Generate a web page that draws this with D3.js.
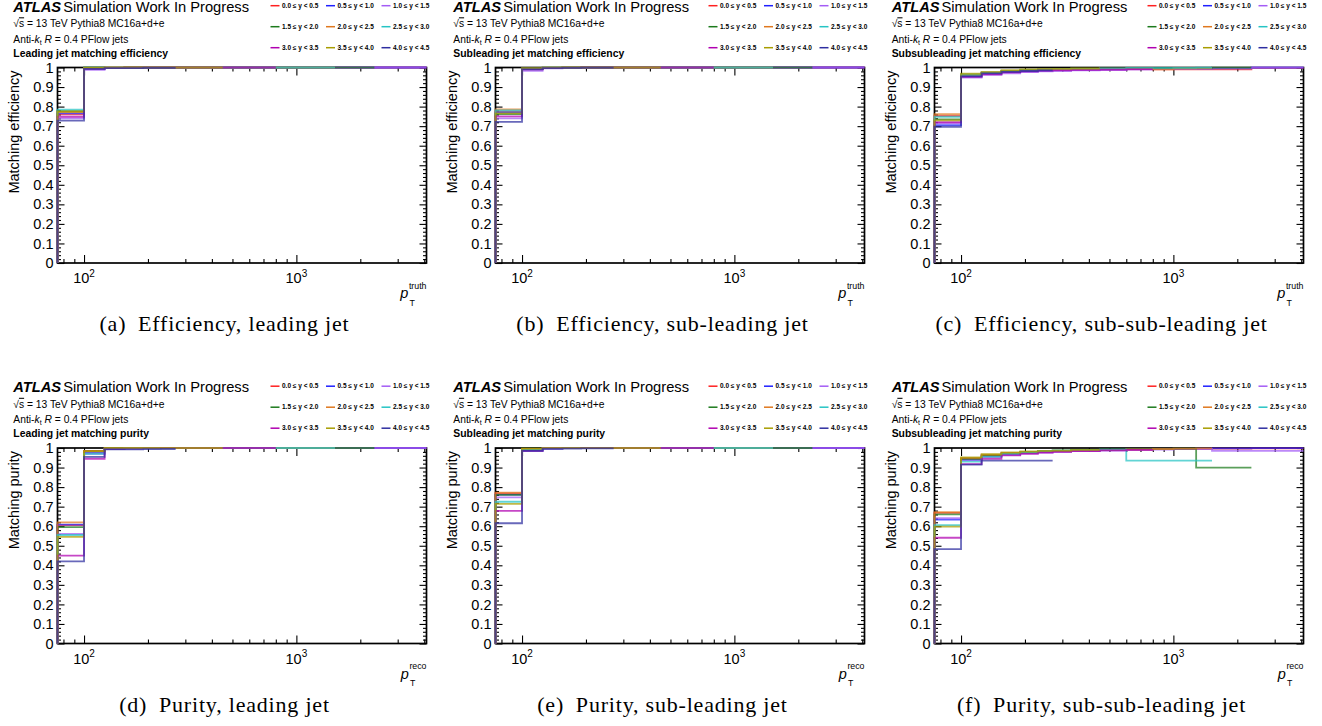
<!DOCTYPE html>
<html><head><meta charset="utf-8">
<script src="https://cdn.jsdelivr.net/npm/d3@7"></script>
<style>body{margin:0;background:#fff} svg{display:block}</style>
</head><body>
<svg id="c" width="1322" height="726"></svg>
<script>
// ---------------- data ----------------
const ptEdges = [75, 100, 125, 155, 190, 230, 270, 330, 450, 600, 800, 1000, 1280, 1520, 2330, 4100];
const rapidityLabels = ["0.0 \u2264 y < 0.5","0.5 \u2264 y < 1.0","1.0 \u2264 y < 1.5",
                        "1.5 \u2264 y < 2.0","2.0 \u2264 y < 2.5","2.5 \u2264 y < 3.0",
                        "3.0 \u2264 y < 3.5","3.5 \u2264 y < 4.0","4.0 \u2264 y < 4.5"];
const seriesColors = ["#ff2020","#2020ff","#a45cf5","#1c7a1c","#e0781e","#26c4c4","#b000b0","#a89d00","#2e2ea0"];

const effLead = [
 [0.760,0.995,0.998,0.999,0.999,1.000,1.000,1.000,1.000,1.000,1.000,1.000,1.000,1.000,1.000],
 [0.765,0.995,0.998,0.999,0.999,0.999,1.000,1.000,1.000,1.000,1.000,1.000,1.000,1.000,1.000],
 [0.740,0.988,0.997,0.998,0.999,0.999,1.000,1.000,1.000,1.000,1.000,1.000,1.000,1.000,1.000],
 [0.777,1.000,0.999,1.000,1.000,1.000,1.000,1.000,1.000,1.000,1.000,1.000,1.000,1.000],
 [0.772,0.997,0.999,1.000,1.000,1.000,1.000,1.000,1.000,1.000,1.000,1.000,1.000],
 [0.785,0.995,0.998,0.999,1.000,1.000,1.000,1.000,1.000,1.000,1.000,1.000,1.000],
 [0.748,0.993,0.998,0.999,1.000,1.000,1.000,1.000,1.000,1.000],
 [0.775,0.998,0.999,1.000,1.000,1.000,1.000,1.000],
 [0.728,0.993,0.997,0.997,0.998,0.998]
];
const effSub = [
 [0.775,0.993,0.998,0.999,1.000,1.000,1.000,1.000,1.000,1.000,1.000,1.000,1.000,1.000,1.000],
 [0.770,0.992,0.998,0.999,0.999,1.000,1.000,1.000,1.000,1.000,1.000,1.000,1.000,1.000,1.000],
 [0.740,0.983,0.996,0.998,0.999,0.999,1.000,1.000,1.000,1.000,1.000,1.000,1.000,1.000,1.000],
 [0.762,0.995,0.999,1.000,1.000,1.000,1.000,1.000,1.000,1.000,1.000,1.000,1.000,1.000],
 [0.786,0.995,0.999,1.000,1.000,1.000,1.000,1.000,1.000,1.000,1.000,1.000,1.000],
 [0.780,0.994,0.999,1.000,1.000,1.000,1.000,1.000,1.000,1.000,1.000,1.000,1.000],
 [0.750,0.990,0.998,0.999,1.000,1.000,1.000,1.000,1.000,1.000],
 [0.765,0.996,0.999,1.000,1.000,1.000,1.000,1.000],
 [0.722,0.990,0.997,0.998,0.999,0.999]
];
const effSubSub = [
 [0.752,0.960,0.972,0.980,0.984,0.987,0.989,0.990,0.991,0.992,0.990,0.990,0.990,0.990,0.998],
 [0.705,0.955,0.968,0.976,0.980,0.983,0.986,0.988,0.990,0.992,0.993,0.994,0.995,0.996,0.999],
 [0.715,0.948,0.962,0.970,0.976,0.980,0.983,0.985,0.987,0.990,0.992,0.993,0.995,0.997,1.000],
 [0.735,0.965,0.975,0.983,0.987,0.990,0.992,0.994,0.996,0.997,0.997,0.998,0.998,0.999],
 [0.762,0.962,0.974,0.982,0.987,0.990,0.991,0.993,0.994,0.995,0.990,0.995,0.996],
 [0.748,0.962,0.973,0.981,0.986,0.989,0.991,0.993,0.995,0.998,0.998,0.998,0.999],
 [0.720,0.952,0.965,0.975,0.980,0.984,0.986,0.988,0.989,0.990],
 [0.730,0.968,0.976,0.986,0.990,0.992,0.993,0.995],
 [0.697,0.955,0.970,0.978,0.982,0.985]
];
const purLead = [
 [0.605,0.985,0.998,0.999,1.000,1.000,1.000,1.000,1.000,1.000,1.000,1.000,1.000,1.000,1.000],
 [0.608,0.975,0.995,0.997,0.998,0.999,1.000,1.000,1.000,1.000,1.000,1.000,1.000,1.000,1.000],
 [0.560,0.970,0.996,0.998,0.999,0.999,1.000,1.000,1.000,1.000,1.000,1.000,1.000,1.000,1.000],
 [0.595,0.985,0.999,1.000,1.000,1.000,1.000,1.000,1.000,1.000,1.000,1.000,1.000,1.000],
 [0.620,0.985,0.999,1.000,1.000,1.000,1.000,1.000,1.000,1.000,1.000,1.000,1.000],
 [0.555,0.970,0.997,0.999,1.000,1.000,1.000,1.000,1.000,1.000,1.000,1.000,1.000],
 [0.450,0.945,0.996,0.998,0.999,1.000,1.000,1.000,1.000,1.000],
 [0.545,0.983,0.999,1.000,1.000,1.000,1.000,1.000],
 [0.420,0.955,0.993,0.993,0.994,0.995]
];
const purSub = [
 [0.768,0.995,0.999,1.000,1.000,1.000,1.000,1.000,1.000,1.000,1.000,1.000,1.000,1.000,1.000],
 [0.762,0.988,0.998,0.999,1.000,1.000,1.000,1.000,1.000,1.000,1.000,1.000,1.000,1.000,1.000],
 [0.747,0.985,0.997,0.999,1.000,1.000,1.000,1.000,1.000,1.000,1.000,1.000,1.000,1.000,1.000],
 [0.760,0.997,0.999,1.000,1.000,1.000,1.000,1.000,1.000,1.000,1.000,1.000,1.000,1.000],
 [0.771,0.996,0.999,1.000,1.000,1.000,1.000,1.000,1.000,1.000,1.000,1.000,1.000],
 [0.725,0.990,0.998,1.000,1.000,1.000,1.000,1.000,1.000,1.000,1.000,1.000,1.000],
 [0.678,0.985,0.998,0.999,1.000,1.000,1.000,1.000,1.000,1.000],
 [0.714,0.997,0.999,1.000,1.000,1.000,1.000,1.000],
 [0.615,0.985,0.996,0.997,0.998,0.998]
];
const purSubSub = [
 [0.668,0.945,0.962,0.972,0.978,0.982,0.985,0.988,0.990,0.992,0.994,0.995,0.996,0.997,0.998],
 [0.634,0.940,0.958,0.968,0.975,0.980,0.983,0.986,0.990,0.993,0.995,0.996,0.997,0.998,0.999],
 [0.641,0.938,0.955,0.965,0.972,0.977,0.980,0.984,0.987,0.990,0.992,0.994,0.995,0.985,0.985],
 [0.660,0.945,0.962,0.973,0.978,0.983,0.987,0.990,0.993,0.995,0.996,0.997,0.900,0.900],
 [0.672,0.950,0.966,0.975,0.980,0.984,0.986,0.988,0.990,0.993,0.995,0.997,0.998],
 [0.605,0.930,0.955,0.970,0.978,0.985,0.988,0.990,0.992,0.935,0.935,0.935,0.935],
 [0.541,0.918,0.945,0.962,0.970,0.976,0.980,0.984,0.988,0.990],
 [0.598,0.952,0.968,0.977,0.982,0.985,0.987,0.990],
 [0.483,0.915,0.935,0.935,0.935,0.935]
];

const panelData = [effLead, effSub, effSubSub, purLead, purSub, purSubSub];
const panelTitles = ["Leading jet matching efficiency","Subleading jet matching efficiency","Subsubleading jet matching efficiency",
                     "Leading jet matching purity","Subleading jet matching purity","Subsubleading jet matching purity"];
const yTitles = ["Matching efficiency","Matching efficiency","Matching efficiency","Matching purity","Matching purity","Matching purity"];
const xTitleSup = ["truth","truth","truth","reco","reco","reco"];
const captions = ["(a)\u2002Efficiency, leading jet","(b)\u2002Efficiency, sub-leading jet","(c)\u2002Efficiency, sub-sub-leading jet",
                  "(d)\u2002Purity, leading jet","(e)\u2002Purity, sub-leading jet","(f)\u2002Purity, sub-sub-leading jet"];
const yMajorTicks = [0,0.1,0.2,0.3,0.4,0.5,0.6,0.7,0.8,0.9,1];
const yMinorTicks = [0.02,0.04,0.06,0.08,0.12,0.14,0.16,0.18,0.22,0.24,0.26,0.28,0.32,0.34,0.36,0.38,0.42,0.44,0.46,0.48,
                     0.52,0.54,0.56,0.58,0.62,0.64,0.66,0.68,0.72,0.74,0.76,0.78,0.82,0.84,0.86,0.88,0.92,0.94,0.96,0.98];
const xMajorTicks = [100, 1000];
const xMinorTicks = [80,90,200,300,400,500,600,700,800,900,2000,3000,4000];

// ---------------- layout ----------------
const colLeft = [57.5, 495.5, 934.5];
const textLeft = [13.3, 453.3, 891.7];
const rowTop = [67.5, 448];
const rowShift = [0, 380.5];
const W = 369, H = 195.5;
const SANS = "'Liberation Sans', Arial, Helvetica, sans-serif";

const svg = d3.select("#c");

panelData.forEach((series, p) => {
  const r = Math.floor(p / 3), c = p % 3;
  const L = colLeft[c], T = rowTop[r], B = T + H, R = L + W, dy0 = rowShift[r];
  const x = d3.scaleLog().domain([ptEdges[0], ptEdges[ptEdges.length - 1]]).range([L, R]);
  const y = d3.scaleLinear().domain([0, 1]).range([B, T]);
  const g = svg.append("g");

  // frame
  g.append("rect").attr("x", L).attr("y", T).attr("width", W).attr("height", H)
    .attr("fill", "none").attr("stroke", "#000").attr("stroke-width", 1.7);

  const styleAxis = sel => { sel.select(".domain").remove(); sel.selectAll(".tick line").attr("stroke", "#000").attr("stroke-width", 1.1); };
  // x ticks bottom & top
  g.append("g").attr("transform", `translate(0,${B})`).call(d3.axisBottom(x).tickValues(xMajorTicks).tickSize(-8).tickFormat("")).call(styleAxis);
  g.append("g").attr("transform", `translate(0,${B})`).call(d3.axisBottom(x).tickValues(xMinorTicks).tickSize(-4).tickFormat("")).call(styleAxis);
  g.append("g").attr("transform", `translate(0,${T})`).call(d3.axisTop(x).tickValues(xMajorTicks).tickSize(-8).tickFormat("")).call(styleAxis);
  g.append("g").attr("transform", `translate(0,${T})`).call(d3.axisTop(x).tickValues(xMinorTicks).tickSize(-4).tickFormat("")).call(styleAxis);
  // y ticks left & right
  const yl = g.append("g").attr("transform", `translate(${L},0)`)
    .call(d3.axisLeft(y).tickValues(yMajorTicks).tickSize(-7).tickPadding(4)
      .tickFormat(d => d === 0 ? "0" : d === 1 ? "1" : d.toFixed(1))).call(styleAxis);
  yl.selectAll("text").attr("font-family", SANS).attr("font-size", 14.5).attr("fill", "#000");
  g.append("g").attr("transform", `translate(${L},0)`).call(d3.axisLeft(y).tickValues(yMinorTicks).tickSize(-3.5).tickFormat("")).call(styleAxis);
  g.append("g").attr("transform", `translate(${R},0)`).call(d3.axisRight(y).tickValues(yMajorTicks).tickSize(-7).tickFormat("")).call(styleAxis);
  g.append("g").attr("transform", `translate(${R},0)`).call(d3.axisRight(y).tickValues(yMinorTicks).tickSize(-3.5).tickFormat("")).call(styleAxis);

  // x tick labels 10^n
  xMajorTicks.forEach(v => {
    const t = g.append("text").attr("x", x(v)).attr("y", B + 20).attr("text-anchor", "middle")
      .attr("font-family", SANS).attr("font-size", 14.5);
    t.append("tspan").text("10");
    t.append("tspan").attr("font-size", 10).attr("dy", -6.5).text(String(Math.round(Math.log10(v))));
  });

  // histograms
  const line = d3.line().x(d => x(d[0])).y(d => y(d[1])).curve(d3.curveStepAfter);
  series.forEach((vals, i) => {
    const pts = [[ptEdges[0], 0]];
    vals.forEach((v, k) => pts.push([ptEdges[k], v]));
    pts.push([ptEdges[vals.length], vals[vals.length - 1]]);
    g.append("path").attr("d", line(pts)).attr("fill", "none")
      .attr("stroke", seriesColors[i]).attr("stroke-width", 1.8).attr("stroke-opacity", 0.72);
  });

  // y title
  g.append("text").attr("transform", `translate(${L - 39},${T + 3}) rotate(-90)`)
    .attr("text-anchor", "end").attr("font-family", SANS).attr("font-size", 14.5).text(yTitles[p]);

  // x title p_T^{sup}
  const sup = g.append("text").attr("x", R).attr("y", B + 25.5).attr("text-anchor", "end")
    .attr("font-family", SANS).attr("font-size", 8.8).text(xTitleSup[p]);
  const sw = sup.node().getComputedTextLength();
  g.append("text").attr("x", R - sw - 0.5).attr("y", B + 35).attr("text-anchor", "end")
    .attr("font-family", SANS).attr("font-size", 14.5).attr("font-style", "italic").text("p");
  g.append("text").attr("x", R - sw + 0.5).attr("y", B + 42.5)
    .attr("font-family", SANS).attr("font-size", 8.8).text("T");

  // header texts
  const tx = textLeft[c];
  const t1 = g.append("text").attr("x", tx).attr("y", dy0 + 11.7).attr("font-family", SANS).attr("font-size", 14.7);
  t1.append("tspan").attr("font-weight", "bold").attr("font-style", "italic").text("ATLAS");
  t1.append("tspan").attr("dx", 2).text("Simulation Work In Progress");

  const t2 = g.append("text").attr("x", tx).attr("y", dy0 + 27.3).attr("font-family", SANS).attr("font-size", 10.3);
  t2.append("tspan").text("\u221A");
  t2.append("tspan").attr("text-decoration", "overline").text("s");
  t2.append("tspan").text(" = 13 TeV Pythia8 MC16a+d+e");

  const t3 = g.append("text").attr("x", tx).attr("y", dy0 + 42.7).attr("font-family", SANS).attr("font-size", 10.3);
  t3.append("tspan").text("Anti-");
  t3.append("tspan").attr("font-style", "italic").text("k");
  t3.append("tspan").attr("font-size", 7).attr("dy", 2).text("t");
  t3.append("tspan").attr("dy", -2).text(" ");
  t3.append("tspan").attr("font-style", "italic").text("R");
  t3.append("tspan").text(" = 0.4 PFlow jets");

  g.append("text").attr("x", tx).attr("y", dy0 + 56.7).attr("font-family", SANS).attr("font-size", 10.4)
    .attr("font-weight", "bold").text(panelTitles[p]);

  // legend
  const legCols = [213, 268.5, 324], legRows = [5.7, 26.7, 47.7];
  rapidityLabels.forEach((lab, i) => {
    const lx = L + legCols[i % 3], ly = dy0 + legRows[Math.floor(i / 3)];
    g.append("line").attr("x1", lx).attr("x2", lx + 9).attr("y1", ly).attr("y2", ly)
      .attr("stroke", seriesColors[i]).attr("stroke-width", 1.5);
    g.append("text").attr("x", lx + 11.5).attr("y", ly + 2.2).attr("font-family", SANS)
      .attr("font-size", 6.5).attr("font-weight", "bold").text(lab);
  });

  // caption
  g.append("text").attr("x", L + 167).attr("y", B + 68).attr("text-anchor", "middle")
    .attr("font-family", "'Liberation Serif', 'Times New Roman', serif").attr("font-size", 22)
    .attr("letter-spacing", 0.8).text(captions[p]);
});
</script>
</body></html>
